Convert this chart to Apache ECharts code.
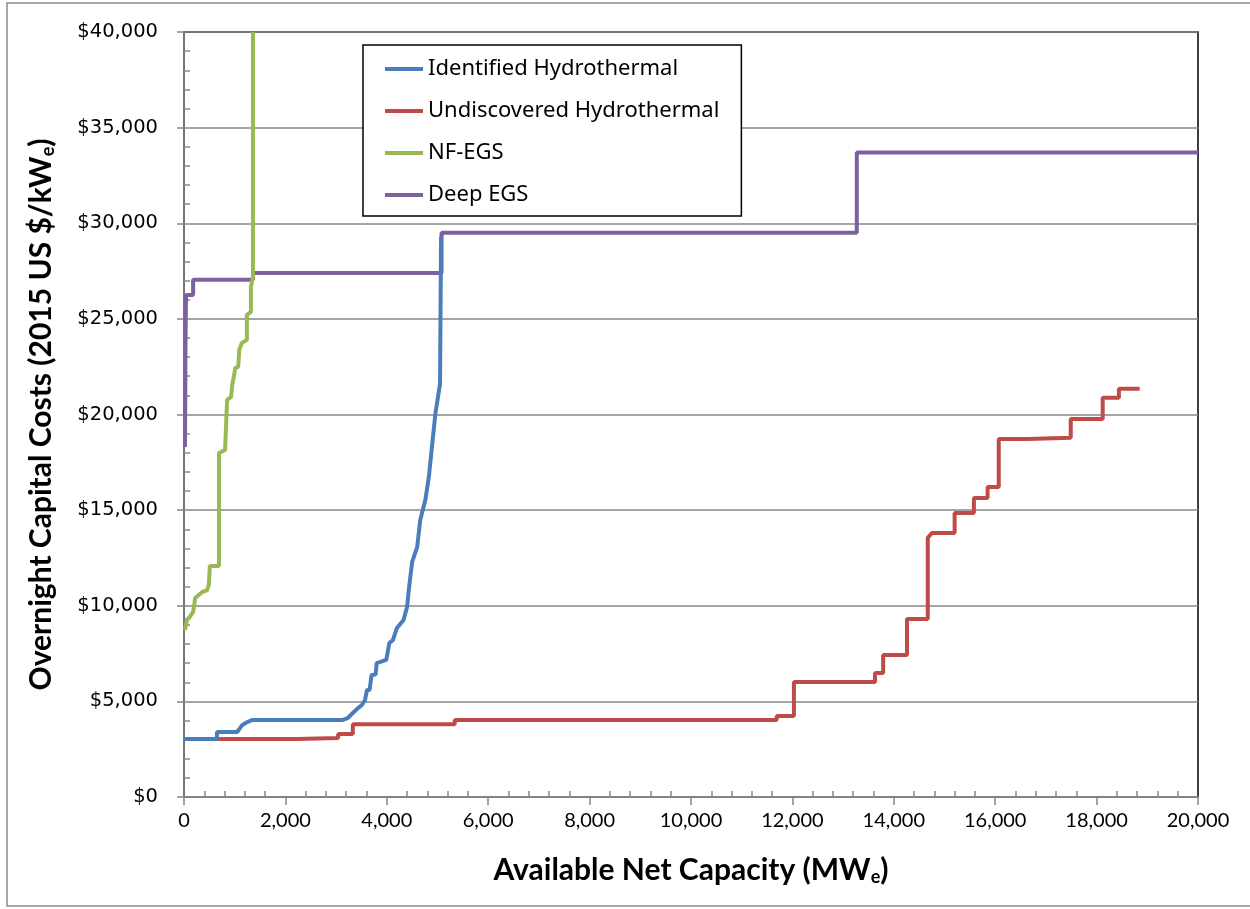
<!DOCTYPE html>
<html>
<head>
<meta charset="utf-8">
<script src="https://cdn.jsdelivr.net/npm/echarts@6/dist/echarts.min.js"></script>
<style>
  html, body { margin: 0; padding: 0; background: #fff; }
  #main { width: 1250px; height: 909px; }
</style>
</head>
<body>
<div id="main"></div>
<script>
  // values: [capacity MWe, cost $/kWe]
  var identified = [
    [0, 3030], [650, 3030], [650, 3400], [1050, 3400], [1150, 3770], [1250, 3920],
    [1350, 4030], [3130, 4030], [3230, 4130], [3330, 4390], [3430, 4650], [3510, 4810],
    [3570, 5070], [3610, 5600], [3660, 5600], [3700, 6380], [3780, 6400], [3800, 7000],
    [3990, 7170], [4050, 8050], [4120, 8200], [4200, 8840], [4330, 9260], [4400, 9940],
    [4440, 10980], [4500, 12290], [4600, 13080], [4660, 14490], [4760, 15530],
    [4830, 16740], [4890, 18300], [4960, 20080], [5050, 21600], [5070, 29300]
  ];
  var undiscovered = [
    [0, 3030], [2230, 3030], [2230, 3090], [3040, 3090], [3040, 3300], [3330, 3300],
    [3330, 3800], [5340, 3800], [5340, 4030], [11690, 4030], [11690, 4240], [12030, 4240],
    [12030, 6010], [13630, 6010], [13630, 6490], [13790, 6490], [13790, 7430],
    [14260, 7430], [14260, 9310], [14670, 9310], [14670, 13550], [14750, 13800],
    [15200, 13800], [15200, 14850], [15580, 14850], [15580, 15640], [15850, 15640],
    [15850, 16210], [16070, 16210], [16070, 18720], [16640, 18720], [16640, 18780],
    [17490, 18780], [17490, 19770], [18120, 19770], [18120, 20870], [18440, 20870],
    [18440, 21340], [18850, 21340]
  ];
  var nfEgs = [
    [20, 8730], [60, 9300], [100, 9360], [180, 9680], [200, 10000], [220, 10400],
    [360, 10720], [450, 10800], [490, 11090], [510, 12080], [690, 12080], [690, 17990],
    [810, 18150], [850, 20760], [930, 20920], [950, 21550], [990, 22070], [1010, 22440],
    [1070, 22490], [1090, 23380], [1140, 23740], [1240, 23900], [1240, 25210],
    [1320, 25370], [1320, 26670], [1360, 27200], [1360, 40000]
  ];
  var deepEgs = [
    [20, 18300], [30, 24000], [40, 26250], [180, 26250], [180, 27040], [1360, 27040],
    [1360, 27400], [5080, 27400], [5080, 29500], [13270, 29500], [13270, 33700],
    [20000, 33700]
  ];
  var seriesNames = ['Identified Hydrothermal', 'Undiscovered Hydrothermal', 'NF-EGS', 'Deep EGS'];
  var seriesColors = ['#4a7ebb', '#be4b48', '#98b954', '#7d60a0'];

  var myChart = echarts.init(document.getElementById('main'));

  var gray = '#878787';
  var titleFont = 'Lato';
  var allData = [identified, undiscovered, nfEgs, deepEgs];
  var series = [];
  for (var i = 0; i < allData.length; i++) {
    series.push({
      name: seriesNames[i],
      type: 'line',
      data: allData[i],
      symbol: 'none',
      clip: true,
      z: 10 - i,
      lineStyle: { width: 4, color: seriesColors[i] },
      itemStyle: { color: seriesColors[i] }
    });
  }

  var option = {
    animation: false,
    backgroundColor: '#fff',
    grid: {
      left: 184, right: 52, top: 32, bottom: 112,
      show: true, borderColor: '#000', borderWidth: 1.5
    },
    legend: {
      orient: 'vertical',
      left: 363, top: 45,
      data: seriesNames,
      icon: 'rect',
      itemWidth: 38, itemHeight: 4,
      itemGap: 20, itemTextGap: 3,
      padding: [13, 22, 10, 22],
      borderColor: '#000', borderWidth: 1.5,
      backgroundColor: '#fff',
      textStyle: { fontFamily: 'Noto Sans', fontSize: 22, color: '#000' }
    },
    xAxis: [{
      type: 'value', min: 0, max: 20000, interval: 2000,
      axisLine: { lineStyle: { color: gray, width: 1.5 } },
      axisTick: { show: true, length: 8, lineStyle: { color: gray, width: 1.5 } },
      splitLine: { show: false },
      axisLabel: {
        margin: 14, color: '#000', fontSize: 20, fontFamily: titleFont,
        formatter: function (v) { return v.toLocaleString('en-US'); }
      },
      name: 'Available Net Capacity (MW{sub|e})',
      nameLocation: 'middle', nameGap: 57,
      nameTextStyle: {
        fontFamily: titleFont, fontWeight: 'bold', fontSize: 30, color: '#000',
        rich: { sub: { fontFamily: titleFont, fontWeight: 'bold', fontSize: 18, color: '#000', padding: [14, 0, 0, 0] } }
      }
    }, {
      type: 'value', min: 0, max: 20000, interval: 2000, position: 'bottom',
      axisLine: { show: false },
      axisTick: { show: false, inside: true },
      minorTick: { show: true, splitNumber: 5, length: 6, lineStyle: { color: gray, width: 1.5 } },
      axisLabel: { show: false },
      splitLine: { show: false }
    }],
    yAxis: [{
      type: 'value', min: 0, max: 40000, interval: 5000,
      axisLine: { show: true, lineStyle: { color: gray, width: 1.5 } },
      axisTick: { show: true, length: 7, lineStyle: { color: gray, width: 1.5 } },
      splitLine: { show: true, lineStyle: { color: gray, width: 1.5 } },
      axisLabel: {
        margin: 26, color: '#000', fontSize: 19.5, fontFamily: 'DejaVu Sans',
        formatter: function (v) { return '$' + v.toLocaleString('en-US'); }
      },
      name: 'Overnight Capital Costs (2015 US $/kW{sub|e})',
      nameLocation: 'middle', nameGap: 127,
      nameTextStyle: {
        fontFamily: titleFont, fontWeight: 'bold', fontSize: 30, color: '#000',
        rich: { sub: { fontFamily: titleFont, fontWeight: 'bold', fontSize: 18, color: '#000', padding: [14, 0, 0, 0] } }
      }
    }, {
      type: 'value', min: 0, max: 40000, interval: 5000, position: 'left',
      axisLine: { show: false },
      axisTick: { show: false, inside: true },
      minorTick: { show: true, splitNumber: 5, length: 6, lineStyle: { color: gray, width: 1.5 } },
      axisLabel: { show: false },
      splitLine: { show: false }
    }],
    graphic: [{
      type: 'rect', silent: true,
      shape: { x: 7, y: 3, width: 1260, height: 903 },
      style: { fill: null, stroke: '#8a8a8a', lineWidth: 1.5 }
    }],
    series: series
  };
  myChart.setOption(option);
</script>
</body>
</html>
